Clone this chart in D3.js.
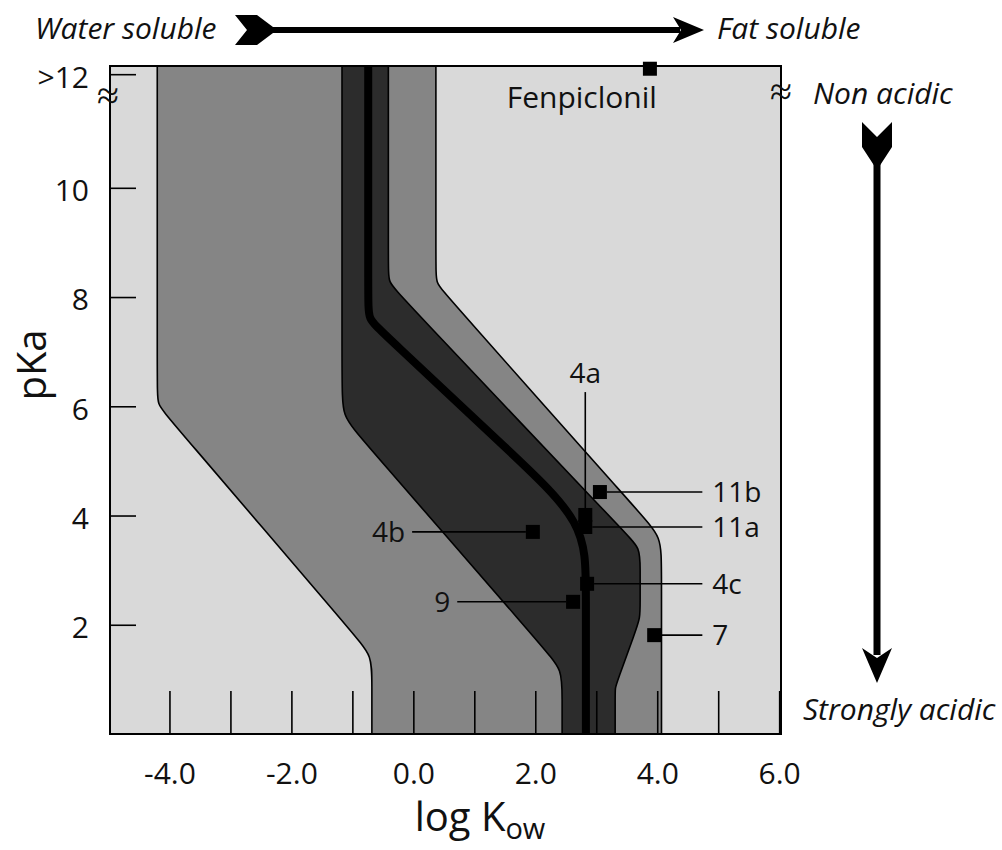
<!DOCTYPE html>
<html lang="en">
<head>
  <meta charset="UTF-8" />
  <title>pKa vs log Kow</title>
  <script src="https://d3js.org/d3.v7.min.js"></script>
  <style>
    body {
      margin: 0;
      background: #fff;
      font-family: "Open Sans", sans-serif;
    }
    svg text {
      fill: #111;
    }
  </style>
</head>
<body>
  <div id="chart"></div>

  <script>
    // compounds (log Kow, pKa)
    const compounds = ["Fenpiclonil", "11b", "4a", "11a", "4b", "4c", "9", "7"];
    const logKow = [3.88, 3.06, 2.82, 2.82, 1.96, 2.85, 2.62, 3.95];
    const pKa = [12.18, 4.43, 4.01, 3.79, 3.70, 2.75, 2.42, 1.81];

    // band outlines, [log Kow, pKa], top -> bottom
    const outerLeft = [[-4.20, 12.44], [-4.20, 6.32], [-4.20, 6.04], [-4.04, 5.82],
      [-0.94, 1.78], [-0.68, 1.43], [-0.68, 0.97], [-0.68, -0.2]];
    const darkLeft = [[-1.17, 12.44], [-1.17, 6.39], [-1.17, 5.82], [-0.86, 5.42],
      [2.18, 1.52], [2.44, 1.17], [2.44, 0.71], [2.44, -0.2]];
    const centreLine = [[-0.74, 12.44], [-0.74, 7.91], [-0.74, 7.60], [-0.53, 7.38],
      [1.64, 5.11], [2.83, 3.86], [2.83, 2.73], [2.83, -0.2]];
    const darkRight = [[-0.41, 12.44], [-0.41, 8.53], [-0.41, 8.28], [-0.25, 8.07],
      [3.49, 3.66], [3.72, 3.41], [3.72, 3.04], [3.72, 2.40], [3.72, 2.12],
      [3.64, 1.87], [3.34, 0.95], [3.31, 0.84], [3.31, 0.70], [3.31, -0.2]];
    const outerRight = [[0.37, 12.44], [0.37, 8.53], [0.37, 8.26], [0.52, 8.06],
      [3.74, 4.01], [4.07, 3.61], [4.07, 3.06], [4.07, -0.2]];

    // axes
    const xTickValues = [-4, -3, -2, -1, 0, 1, 2, 3, 4, 5, 6];
    const xLabelValues = [-4, -2, 0, 2, 4, 6];
    const xLabels = ["-4.0", "-2.0", "0.0", "2.0", "4.0", "6.0"];
    const yTickValues = [2, 4, 6, 8, 10, 12.08];
    const yLabels = ["2", "4", "6", "8", "10", ">12"];

    // callout layout: which way the leader goes and where it stops
    const calloutSide = ["below", "right", "up", "right", "left", "right", "left", "right"];
    const leaderEnd = [null, 4.74, 6.26, 4.74, -0.02, 4.74, 0.72, 4.74];

    const W = 1002, H = 850;
    const frame = { left: 110, right: 781, top: 66, bottom: 734 };

    const x = d3.scaleLinear().domain([-4.975, 6.03]).range([frame.left, frame.right]);
    const y = d3.scaleLinear().domain([0, 12.23]).range([frame.bottom, frame.top]);

    const svg = d3.select("#chart").append("svg")
      .attr("width", W)
      .attr("height", H);

    svg.append("clipPath").attr("id", "plot")
      .append("rect")
      .attr("x", frame.left).attr("y", frame.top)
      .attr("width", frame.right - frame.left)
      .attr("height", frame.bottom - frame.top);

    const plot = svg.append("g").attr("clip-path", "url(#plot)");

    plot.append("rect")
      .attr("x", frame.left).attr("y", frame.top)
      .attr("width", frame.right - frame.left)
      .attr("height", frame.bottom - frame.top)
      .attr("fill", "#d9d9d9");

    const line = d3.line()
      .x(d => x(d[0]))
      .y(d => y(d[1]))
      .curve(d3.curveBasis);

    function band(left, right) {
      return line(left) + line(right.slice().reverse()).replace(/^M/, "L") + "Z";
    }

    plot.append("path").attr("d", band(outerLeft, outerRight)).attr("fill", "#858585");
    plot.append("path").attr("d", band(darkLeft, darkRight)).attr("fill", "#2c2c2c");

    [outerLeft, darkLeft, darkRight, outerRight].forEach(b => {
      plot.append("path")
        .attr("d", line(b))
        .attr("fill", "none")
        .attr("stroke", "#000")
        .attr("stroke-width", 1.6);
    });

    plot.append("path")
      .attr("d", line(centreLine))
      .attr("fill", "none")
      .attr("stroke", "#000")
      .attr("stroke-width", 8);

    // tick marks inside the frame
    const xTickAxis = svg.append("g")
      .attr("transform", `translate(0,${frame.bottom})`)
      .call(d3.axisBottom(x).tickValues(xTickValues).tickSize(-43).tickFormat(""));
    xTickAxis.select(".domain").remove();
    xTickAxis.selectAll("line").attr("stroke", "#000").attr("stroke-width", 1.6);

    const xLabelAxis = svg.append("g")
      .attr("transform", `translate(0,${frame.bottom})`)
      .call(d3.axisBottom(x).tickValues(xLabelValues).tickSize(0).tickPadding(29)
        .tickFormat((d, i) => xLabels[i]));
    xLabelAxis.select(".domain").remove();
    xLabelAxis.selectAll("text")
      .attr("font-family", "Open Sans")
      .attr("font-size", 30)
      .attr("fill", "#111");

    const yAxis = svg.append("g")
      .attr("transform", `translate(${frame.left},0)`)
      .call(d3.axisLeft(y).tickValues(yTickValues).tickSize(-26).tickPadding(21)
        .tickFormat((d, i) => yLabels[i]));
    yAxis.select(".domain").remove();
    yAxis.selectAll("line").attr("stroke", "#000").attr("stroke-width", 1.6);
    yAxis.selectAll("text")
      .attr("dy", "0.43em")
      .attr("font-family", "Open Sans")
      .attr("font-size", 30)
      .attr("fill", "#111");

    // frame
    svg.append("rect")
      .attr("x", frame.left).attr("y", frame.top)
      .attr("width", frame.right - frame.left)
      .attr("height", frame.bottom - frame.top)
      .attr("fill", "none")
      .attr("stroke", "#000")
      .attr("stroke-width", 2);

    // break marks
    const breaks = svg.append("g")
      .attr("font-family", "DejaVu Sans")
      .attr("font-weight", 200)
      .attr("font-size", 40)
      .attr("text-anchor", "middle");
    breaks.append("text").attr("x", frame.left - 2).attr("y", 109).text("≈");
    breaks.append("text").attr("x", frame.right).attr("y", 105).text("≈");

    // compounds with callouts
    const pts = compounds.map((name, i) => ({
      name, k: logKow[i], p: pKa[i], side: calloutSide[i], end: leaderEnd[i]
    }));
    const half = 7;
    const callouts = svg.append("g");

    pts.forEach(d => {
      const px = x(d.k), py = y(d.p);
      const g = callouts.append("g");
      if (d.side === "right") {
        g.append("line").attr("x1", px + half).attr("x2", x(d.end))
          .attr("y1", py).attr("y2", py);
        g.append("text").attr("x", x(d.end) + 10).attr("y", py).attr("dy", "0.36em")
          .attr("font-size", 28).text(d.name);
      } else if (d.side === "left") {
        g.append("line").attr("x1", px - half).attr("x2", x(d.end))
          .attr("y1", py).attr("y2", py);
        g.append("text").attr("x", x(d.end) - 7).attr("y", py).attr("dy", "0.36em")
          .attr("font-size", 28).attr("text-anchor", "end").text(d.name);
      } else if (d.side === "up") {
        g.append("line").attr("x1", px).attr("x2", px)
          .attr("y1", py - half).attr("y2", y(d.end));
        g.append("text").attr("x", px).attr("y", y(d.end) - 9)
          .attr("font-size", 28).attr("text-anchor", "middle").text(d.name);
      } else {
        g.append("text").attr("x", px + 7).attr("y", py + 39)
          .attr("font-size", 30).attr("text-anchor", "end").text(d.name);
      }
      g.append("rect")
        .attr("x", px - half).attr("y", py - half)
        .attr("width", half * 2).attr("height", half * 2)
        .attr("fill", "#000");
    });
    callouts.selectAll("line").attr("stroke", "#000").attr("stroke-width", 1.6);

    // axis titles
    svg.append("text")
      .attr("transform", "translate(46,365) rotate(-90)")
      .attr("text-anchor", "middle")
      .attr("font-size", 40)
      .text("pKa");

    const xt = svg.append("text")
      .attr("x", 480).attr("y", 831)
      .attr("text-anchor", "middle")
      .attr("font-size", 40);
    xt.append("tspan").text("log K");
    xt.append("tspan").attr("font-size", 29).attr("dy", 8).text("ow");

    // solubility / acidity arrows
    const arrows = svg.append("g").attr("fill", "#000");
    arrows.append("path").attr("d", "M235,15 L257,15 L277,30 L257,45 L235,45 L247,30 Z");
    arrows.append("rect").attr("x", 270).attr("y", 27).attr("width", 410).attr("height", 6);
    arrows.append("path").attr("d", "M673,17 L704,30 L673,43 L681,30 Z");

    arrows.append("path").attr("d", "M862,122 L877,137 L892,122 L892,147 L877,170 L862,147 Z");
    arrows.append("rect").attr("x", 873.5).attr("y", 160).attr("width", 7).attr("height", 495);
    arrows.append("path").attr("d", "M862,648 L877,683 L892,648 L877,658 Z");

    const notes = svg.append("g")
      .attr("font-style", "italic")
      .attr("font-size", 30);
    notes.append("text").attr("x", 35).attr("y", 39).text("Water soluble");
    notes.append("text").attr("x", 717).attr("y", 39).text("Fat soluble");
    notes.append("text").attr("x", 813).attr("y", 104).text("Non acidic");
    notes.append("text").attr("x", 803).attr("y", 720).text("Strongly acidic");
  </script>
</body>
</html>
